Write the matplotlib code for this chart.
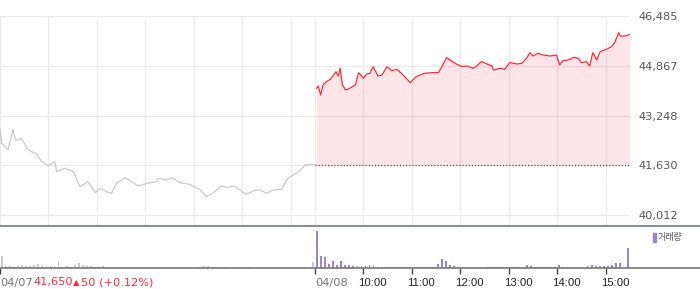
import numpy as np
import matplotlib
matplotlib.use('Agg')
from matplotlib import pyplot as plt
from matplotlib import transforms
from matplotlib.patches import Rectangle
from matplotlib.lines import Line2D

# minutes from 04/07 09:00 (04/08 09:00 = 390)
prevT = [0, 2, 6, 10, 16, 19, 23, 26, 29, 33, 39, 45, 52, 60, 68, 70, 80, 91, 99, 109,
         118, 124, 132, 138, 144, 155, 163, 171, 182, 194, 196, 206, 213, 223, 235, 248,
         256, 264, 274, 281, 289, 297, 305, 314, 322, 330, 338, 349, 355, 363, 371, 378, 390]
prevP = [42831, 42343, 42235, 42126, 42798, 42451, 42451, 42506, 42397, 42180, 42072, 41996,
         41747, 41617, 41747, 41421, 41530, 41421, 40933, 41096, 40738, 40879, 40771, 40717,
         41042, 41226, 41096, 40955, 41042, 41096, 41204, 41150, 41226, 41063, 41009, 40825,
         40608, 40738, 40955, 40912, 40955, 40825, 40684, 40803, 40825, 40717, 40825, 40847,
         41172, 41313, 41443, 41650, 41650]

todayT = [392, 394, 397, 400, 404, 409, 413, 416, 419, 421, 424, 428, 433, 440, 444, 450, 454,
          458, 462, 468, 473, 479, 485, 491, 497, 503, 508, 514, 520, 526, 534, 543, 547, 553,
          559, 565, 572, 578, 586, 590, 596, 603, 609, 611, 619, 625, 631, 640, 646, 652, 656,
          660, 666, 673, 681, 689, 693, 697, 704, 710, 716, 720, 726, 730, 734, 739, 743, 751,
          757, 761, 766, 768, 774, 780]
todayP = [44132, 44208, 43915, 44240, 44349, 44425, 44566, 44674, 44533, 44783, 44240, 44078,
          44132, 44240, 44642, 44457, 44598, 44620, 44837, 44533, 44566, 44837, 44707, 44750,
          44620, 44457, 44316, 44490, 44566, 44620, 44642, 44642, 44837, 45130, 45021, 44924,
          44837, 44859, 44783, 44859, 45000, 44924, 44859, 44728, 44783, 44750, 44967, 44924,
          44945, 45108, 45292, 45184, 45271, 45216, 45184, 45216, 44891, 45032, 45054, 45140,
          45108, 44967, 45000, 44859, 45292, 45054, 45325, 45401, 45487, 45618, 45943, 45834,
          45834, 45889]
prevClose = 41650

# volume per 5 minutes (relative units)
prevVol = [12, 2, 2, 1.5, 2, 3, 2, 2, 3, 4, 3, 2, 2, 2, 7.5, 1.5, 2, 1.5, 3, 5.5,
           3, 2, 2, 1.5, 1.5, 2, 1.5, 1, 0, 0, 0, 0, 1, 0, 0.5, 0, 0, 0, 0.5, 0,
           0, 0, 0, 0, 1, 0, 1, 0, 0, 1.5, 2.5, 2, 1, 1, 1.5, 1, 0.5, 0, 1, 1.5,
           1.5, 1, 0.5, 1.5, 1.5, 1.5, 1, 0, 0, 0.5, 1.5, 1.5, 1.5, 1.5, 1.5, 1.5, 0.5, 6]
todayVol = [37, 12, 11, 4, 7, 3, 7, 3, 3, 2, 2, 2.5, 2, 3, 2, 1.5, 1.5, 1.5, 1.5, 1.5,
            1, 1, 1, 1.5, 1, 1, 1, 1, 1, 1, 4, 9.5, 7, 3, 2.5, 1.5, 1, 1, 1, 1.5,
            1.5, 1, 1.5, 1.5, 1.5, 1, 1.5, 1, 1, 1, 1, 1.5, 3, 2, 1, 1, 1.5, 1.5, 1.5, 1.5,
            3, 1, 1, 1.5, 1, 1.5, 1.5, 2, 3, 2.5, 2, 2.5, 2.5, 3.5, 5, 5.5, 0, 20]

yticks = [40012, 41630, 43248, 44867, 46485]
tickMin = [0, 390, 450, 510, 570, 630, 690, 750]
tickLab = ['04/07', '04/08', '10:00', '11:00', '12:00', '13:00', '14:00', '15:00']

W, H = 700, 289
fig = plt.figure(figsize=(W / 100, H / 100), dpi=100)

ax = fig.add_axes([0, 1 - 225 / H, 630 / W, 209 / H])
av = fig.add_axes([0, 1 - 268.3 / H, 630 / W, 42.3 / H])

grid = '#ebebeb'
red = '#ff2b3d'

# main price chart
ax.set_xlim(0, 780)
ax.set_ylim(39687, 46485)
for v in [0, 60, 120, 180, 240, 300, 360, 390, 450, 510, 570, 630, 690, 750]:
    ax.axvline(v, color=grid, lw=1, zorder=1)
for v in yticks:
    ax.axhline(v, color=grid, lw=1, zorder=1)
ax.plot(prevT, prevP, color='#c9c9cd', lw=0.9, zorder=3)
ax.fill_between(todayT, todayP, prevClose, color=red, alpha=0.12, lw=0, zorder=2)
ax.plot(todayT, todayP, color=red, lw=0.9, zorder=4)
ax.plot([390, 780], [prevClose, prevClose], color='#555555', lw=0.9,
        ls=(0, (1, 1.5)), zorder=3)
ax.yaxis.tick_right()
ax.set_yticks(yticks)
ax.set_yticklabels(['{:,}'.format(v) for v in yticks])
ax.tick_params(axis='y', length=0, pad=5.8, labelsize=8.2, labelcolor='#555555')
ax.set_xticks([])
for s in ax.spines.values():
    s.set_visible(False)

# volume
pv = np.arange(len(prevVol)) * 5 + 2.5
tv = np.arange(len(todayVol)) * 5 + 392.5
av.bar(pv, prevVol, width=2.2, color='#c8c8c8', lw=0)
av.bar(tv, todayVol, width=2.2, color='#9b87c8', lw=0)
av.set_xlim(0, 780)
av.set_ylim(0, 42.3)
av.set_yticks([])
av.set_xticks(tickMin)
av.set_xticklabels([])
av.tick_params(axis='x', length=4, width=1, color='#444444', direction='out')
for s in av.spines.values():
    s.set_visible(False)

for m, lab in zip(tickMin, tickLab):
    if '/' in lab:
        tr = transforms.offset_copy(av.get_xaxis_transform(), fig=fig, x=0, y=-14.5, units='dots')
        av.text(m, 0, lab, transform=tr, ha='left', va='center', fontsize=8.2,
                color='#777777', family='DejaVu Sans')
    else:
        tr = transforms.offset_copy(av.get_xaxis_transform(), fig=fig, x=-5, y=-14.5, units='dots')
        av.text(m, 0, lab, transform=tr, ha='left', va='center', fontsize=8.2,
                color='#222222', family='Liberation Sans')

# separators
fig.add_artist(Line2D([0, 1], [1 - 225.5 / H] * 2, color='#8a8f94', lw=1.5))
fig.add_artist(Line2D([0, 1], [1 - 268.3 / H] * 2, color='#777777', lw=1.2))

# bottom-left quote
yq = 1 - 282.5 / H
fig.text(33 / W, yq, '41,650', color=red, fontsize=8.2, va='center', family='DejaVu Sans')
fig.text(72.5 / W, yq, '\u25b2', color=red, fontsize=6, va='center', family='DejaVu Sans')
fig.text(81 / W, yq, '50 (+0.12%)', color=red, fontsize=8.2, va='center', family='DejaVu Sans')

# legend
fig.add_artist(Rectangle((653 / W, 1 - 242 / H), 3 / W, 9 / H, color='#9b87c8',
                         transform=fig.transFigure))
fig.text(658 / W, 1 - 237.5 / H, '거래량', fontsize=6.5, color='#555555', va='center',
         family=['Noto Sans CJK KR', 'DejaVu Sans'])

fig.savefig('out.png', dpi=100)
